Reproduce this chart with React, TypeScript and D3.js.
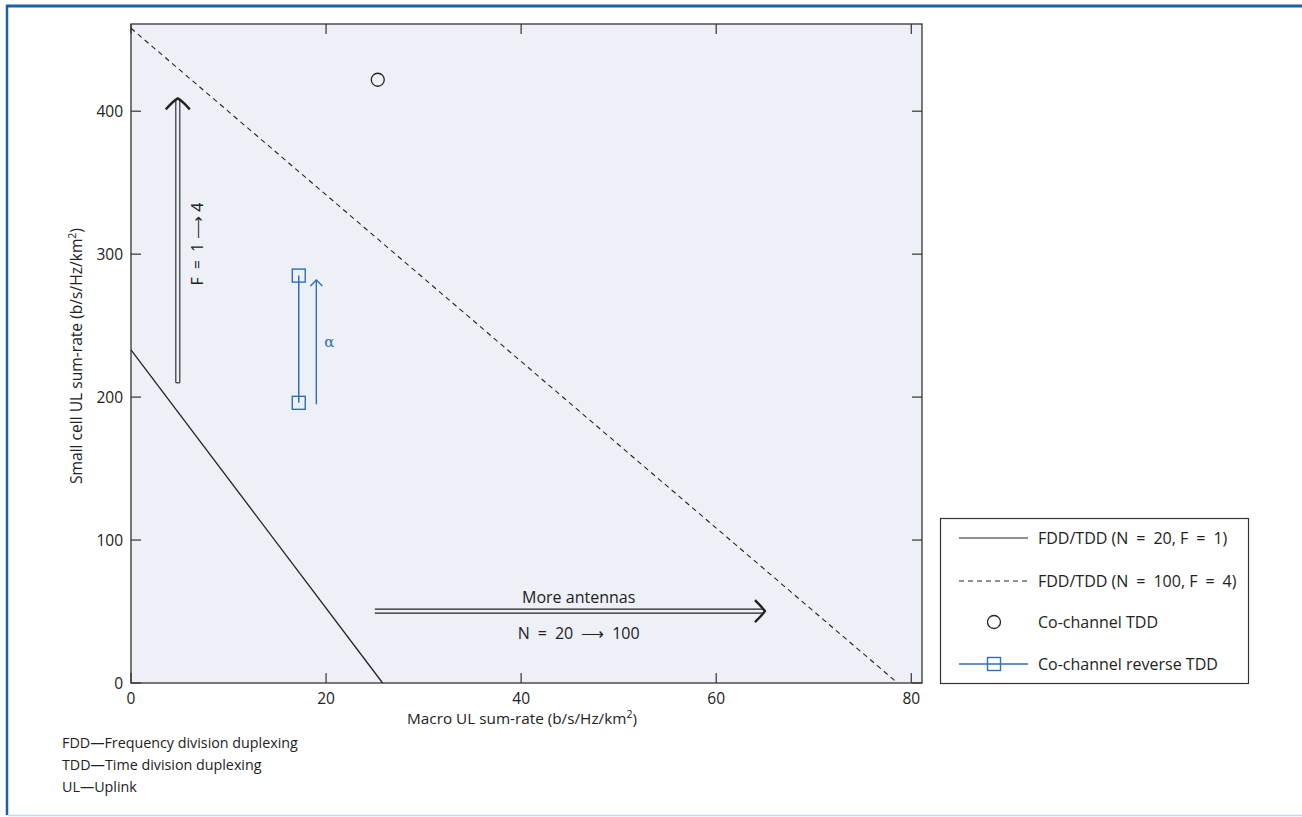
import React from 'react';
import * as d3 from 'd3';

// values
const solidLine = [
  { x: 0, y: 233 },
  { x: 25.8, y: 0 },
];
const dashedLine = [
  { x: 0, y: 458 },
  { x: 78.6, y: 0 },
];
const coChannelTdd = [{ x: 25.3, y: 422 }];
const reverseTdd = [
  { x: 17.2, y: 196 },
  { x: 17.2, y: 285 },
];
const xTicks = [0, 20, 40, 60, 80];
const yTicks = [0, 100, 200, 300, 400];
// en spaces around "=" to mimic the wide math spacing of the original
const EQ = '\u2002=\u2002';
const legendItems = [
  `FDD/TDD (N${EQ}20, F${EQ}1)`,
  `FDD/TDD (N${EQ}100, F${EQ}4)`,
  'Co-channel TDD',
  'Co-channel reverse TDD',
];
const footnotes = [
  'FDD\u2014Frequency division duplexing',
  'TDD\u2014Time division duplexing',
  'UL\u2014Uplink',
];

const W = 1302;
const H = 817;
const margin = { left: 131, top: 24, right: 922, bottom: 683 };
const BLUE = '#1f5fa6';
const MARK = '#2f6fb5';
const AXIS = '#333';
const FONT = "'Open Sans', 'Noto Sans', sans-serif";

const App = () => {
  const x = d3.scaleLinear().domain([0, 81.1]).range([margin.left, margin.right]);
  const y = d3.scaleLinear().domain([0, 461]).range([margin.bottom, margin.top]);
  const line = d3
    .line<{ x: number; y: number }>()
    .x((d) => x(d.x))
    .y((d) => y(d.y));

  const plotW = margin.right - margin.left;
  const plotH = margin.bottom - margin.top;

  // double-shaft arrow helpers
  const vx = x(4.8);
  const vy0 = y(210);
  const vy1 = y(409);
  const hy = y(50.3);
  const hx0 = x(25);
  const hx1 = x(65);
  const bx = x(19);
  const by0 = y(195);
  const by1 = y(282);

  const lx0 = 959;
  const lx1 = 1028;
  const legendY = [538, 581, 622, 664];

  return (
    <svg width={W} height={H} style={{ position: 'absolute', left: 0, top: 0 }} fontFamily={FONT}>
      <rect x={0} y={0} width={W} height={H} fill="#fff" />
      {/* frame */}
      <line x1={6} y1={6} x2={W} y2={6} stroke={BLUE} strokeWidth={3} />
      <line x1={7} y1={5} x2={7} y2={815} stroke={BLUE} strokeWidth={2.5} />
      <line x1={8} y1={815.5} x2={W} y2={815.5} stroke="#c3d7ec" strokeWidth={1.5} />

      {/* plot area */}
      <rect x={margin.left} y={margin.top} width={plotW} height={plotH} fill="#edf0f7" stroke={AXIS} strokeWidth={1.3} />

      {xTicks.map((t) => (
        <g key={'x' + t}>
          <line x1={x(t)} x2={x(t)} y1={margin.bottom} y2={margin.bottom - 10} stroke={AXIS} strokeWidth={1.2} />
          <line x1={x(t)} x2={x(t)} y1={margin.top} y2={margin.top + 10} stroke={AXIS} strokeWidth={1.2} />
          <text x={x(t)} y={margin.bottom + 21} textAnchor="middle" fontSize={15.5} fill="#222">
            {t}
          </text>
        </g>
      ))}
      {yTicks.map((t) => (
        <g key={'y' + t}>
          <line x1={margin.left} x2={margin.left + 10} y1={y(t)} y2={y(t)} stroke={AXIS} strokeWidth={1.2} />
          <line x1={margin.right} x2={margin.right - 10} y1={y(t)} y2={y(t)} stroke={AXIS} strokeWidth={1.2} />
          <text x={margin.left - 8} y={y(t) + 5.5} textAnchor="end" fontSize={15.5} fill="#222">
            {t}
          </text>
        </g>
      ))}

      {/* axis titles */}
      <text x={522} y={724} textAnchor="middle" fontSize={15.3} fill="#222">
        Macro UL sum-rate (b/s/Hz/km<tspan fontSize={10.5} dy={-6}>2</tspan>
        <tspan dy={6}>)</tspan>
      </text>
      <text transform={`translate(82, 356) rotate(-90)`} textAnchor="middle" fontSize={15.6} fill="#222">
        Small cell UL sum-rate (b/s/Hz/km<tspan fontSize={10.5} dy={-6}>2</tspan>
        <tspan dy={6}>)</tspan>
      </text>

      {/* series */}
      <path d={line(solidLine) || ''} fill="none" stroke="#222" strokeWidth={1.3} />
      <path d={line(dashedLine) || ''} fill="none" stroke="#222" strokeWidth={1.1} strokeDasharray="5,4" />
      {coChannelTdd.map((d, i) => (
        <circle key={i} cx={x(d.x)} cy={y(d.y)} r={6.5} fill="none" stroke="#222" strokeWidth={1.3} />
      ))}
      <path d={line(reverseTdd) || ''} fill="none" stroke={MARK} strokeWidth={1.5} />
      {reverseTdd.map((d, i) => (
        <rect key={i} x={x(d.x) - 6.5} y={y(d.y) - 6.5} width={13} height={13} fill="none" stroke={MARK} strokeWidth={1.4} />
      ))}

      {/* vertical double arrow F = 1 -> 4 */}
      <line x1={vx - 2} x2={vx - 2} y1={vy0} y2={vy1 + 2} stroke="#222" strokeWidth={1.1} />
      <line x1={vx + 2} x2={vx + 2} y1={vy0} y2={vy1 + 2} stroke="#222" strokeWidth={1.1} />
      <line x1={vx - 2} x2={vx + 2} y1={vy0} y2={vy0} stroke="#222" strokeWidth={1.1} />
      <path d={`M${vx - 12},${vy1 + 11} Q${vx - 4},${vy1 + 2} ${vx},${vy1} Q${vx + 4},${vy1 + 2} ${vx + 12},${vy1 + 11}`} fill="none" stroke="#222" strokeWidth={2.4} />
      <text transform={`translate(${vx + 25}, 244) rotate(-90)`} textAnchor="middle" fontSize={16} fill="#222">
        {`F${EQ}1 \u27F6 4`}
      </text>

      {/* horizontal double arrow N = 20 -> 100 */}
      <line x1={hx0} x2={hx1 - 2} y1={hy - 2} y2={hy - 2} stroke="#222" strokeWidth={1.1} />
      <line x1={hx0} x2={hx1 - 2} y1={hy + 2} y2={hy + 2} stroke="#222" strokeWidth={1.1} />
      <path d={`M${hx1 - 10},${hy - 11} Q${hx1 - 2},${hy - 3} ${hx1},${hy} Q${hx1 - 2},${hy + 3} ${hx1 - 10},${hy + 11}`} fill="none" stroke="#222" strokeWidth={2.4} />
      <text x={x(45.9)} y={hy - 8} textAnchor="middle" fontSize={16} fill="#222">
        More antennas
      </text>
      <text x={x(45.9)} y={hy + 28} textAnchor="middle" fontSize={16} fill="#222">
        {`N${EQ}20\u2002\u27F6\u2002100`}
      </text>

      {/* blue alpha arrow */}
      <line x1={bx} x2={bx} y1={by0} y2={by1} stroke={MARK} strokeWidth={1.4} />
      <path d={`M${bx - 6},${by1 + 6} L${bx},${by1} L${bx + 6},${by1 + 6}`} fill="none" stroke={MARK} strokeWidth={1.4} />
      <text x={bx + 8} y={347} fontSize={15} fill={MARK} fontFamily="'DejaVu Serif', serif">
        {'\u03B1'}
      </text>

      {/* legend */}
      <rect x={940.5} y={518.5} width={308} height={165} fill="#fff" stroke={AXIS} strokeWidth={1.2} />
      <line x1={lx0} x2={lx1} y1={legendY[0]} y2={legendY[0]} stroke="#222" strokeWidth={1.2} />
      <line x1={lx0} x2={lx1} y1={legendY[1]} y2={legendY[1]} stroke="#222" strokeWidth={1.1} strokeDasharray="5,4" />
      <circle cx={994} cy={legendY[2]} r={6.5} fill="none" stroke="#222" strokeWidth={1.3} />
      <line x1={lx0} x2={lx1} y1={legendY[3]} y2={legendY[3]} stroke={MARK} strokeWidth={1.4} />
      <rect x={987.5} y={legendY[3] - 6.5} width={13} height={13} fill="none" stroke={MARK} strokeWidth={1.4} />
      {legendItems.map((t, i) => (
        <text key={t} x={1038} y={legendY[i] + 6} fontSize={16} fill="#222">
          {t}
        </text>
      ))}

      {/* footnotes */}
      {footnotes.map((t, i) => (
        <text key={t} x={62} y={748 + i * 22} fontSize={14.3} fill="#222">
          {t}
        </text>
      ))}
    </svg>
  );
};

export default App;
